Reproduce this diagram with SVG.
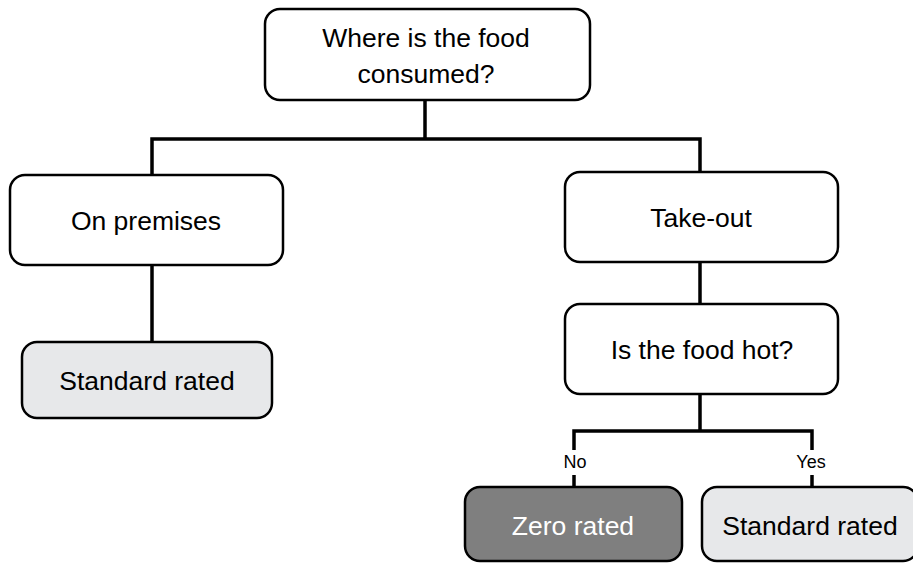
<svg xmlns="http://www.w3.org/2000/svg" width="913" height="563" viewBox="0 0 913 563">
  <style>
    .box { fill: #ffffff; stroke: #000000; stroke-width: 2.5; }
    .std { fill: #e7e8ea; }
    .zero { fill: #7f7f7f; }
    .lbl { font-family: "Liberation Sans", Arial, sans-serif; font-size: 26.5px; fill: #000000; text-anchor: middle; }
    .lbl-w { fill: #ffffff; }
    .edge { font-family: "Liberation Sans", Arial, sans-serif; font-size: 18px; fill: #000000; text-anchor: middle; }
    .wire { fill: none; stroke: #000000; stroke-width: 3.5; stroke-linejoin: miter; }
  </style>
  <rect width="913" height="563" fill="#ffffff"/>

  <g id="connectors">
    <path class="wire" d="M425 100 V139 M152 175 V139 H700 V172"/>
    <path class="wire" d="M152 265 V342"/>
    <path class="wire" d="M700 262 V304"/>
    <path class="wire" d="M700 393 V431 M574 450 V431 H812 V450"/>
    <path class="wire" d="M574 475 V487 M812 475 V487"/>
    <text class="edge" x="575" y="468">No</text>
    <text class="edge" x="811" y="468">Yes</text>
  </g>

  <g id="where-consumed">
    <rect class="box" x="265" y="9" width="325" height="91" rx="15"/>
    <text class="lbl" x="426" y="47">Where is the food</text>
    <text class="lbl" x="426" y="83">consumed?</text>
  </g>

  <g id="on-premises">
    <rect class="box" x="10" y="175" width="273" height="90" rx="15"/>
    <text class="lbl" x="146" y="230">On premises</text>
  </g>

  <g id="standard-rated-left">
    <rect class="box std" x="22" y="342" width="250" height="76" rx="15"/>
    <text class="lbl" x="147" y="390">Standard rated</text>
  </g>

  <g id="take-out">
    <rect class="box" x="565" y="172" width="273" height="90" rx="15"/>
    <text class="lbl" x="701" y="227">Take-out</text>
  </g>

  <g id="food-hot">
    <rect class="box" x="565" y="304" width="273" height="90" rx="15"/>
    <text class="lbl" x="702" y="359">Is the food hot?</text>
  </g>

  <g id="zero-rated">
    <rect class="box zero" x="465" y="487" width="217" height="74" rx="15"/>
    <text class="lbl lbl-w" x="573" y="535">Zero rated</text>
  </g>

  <g id="standard-rated-right">
    <rect class="box std" x="702" y="487" width="216" height="74" rx="15"/>
    <text class="lbl" x="810" y="535">Standard rated</text>
  </g>
</svg>
